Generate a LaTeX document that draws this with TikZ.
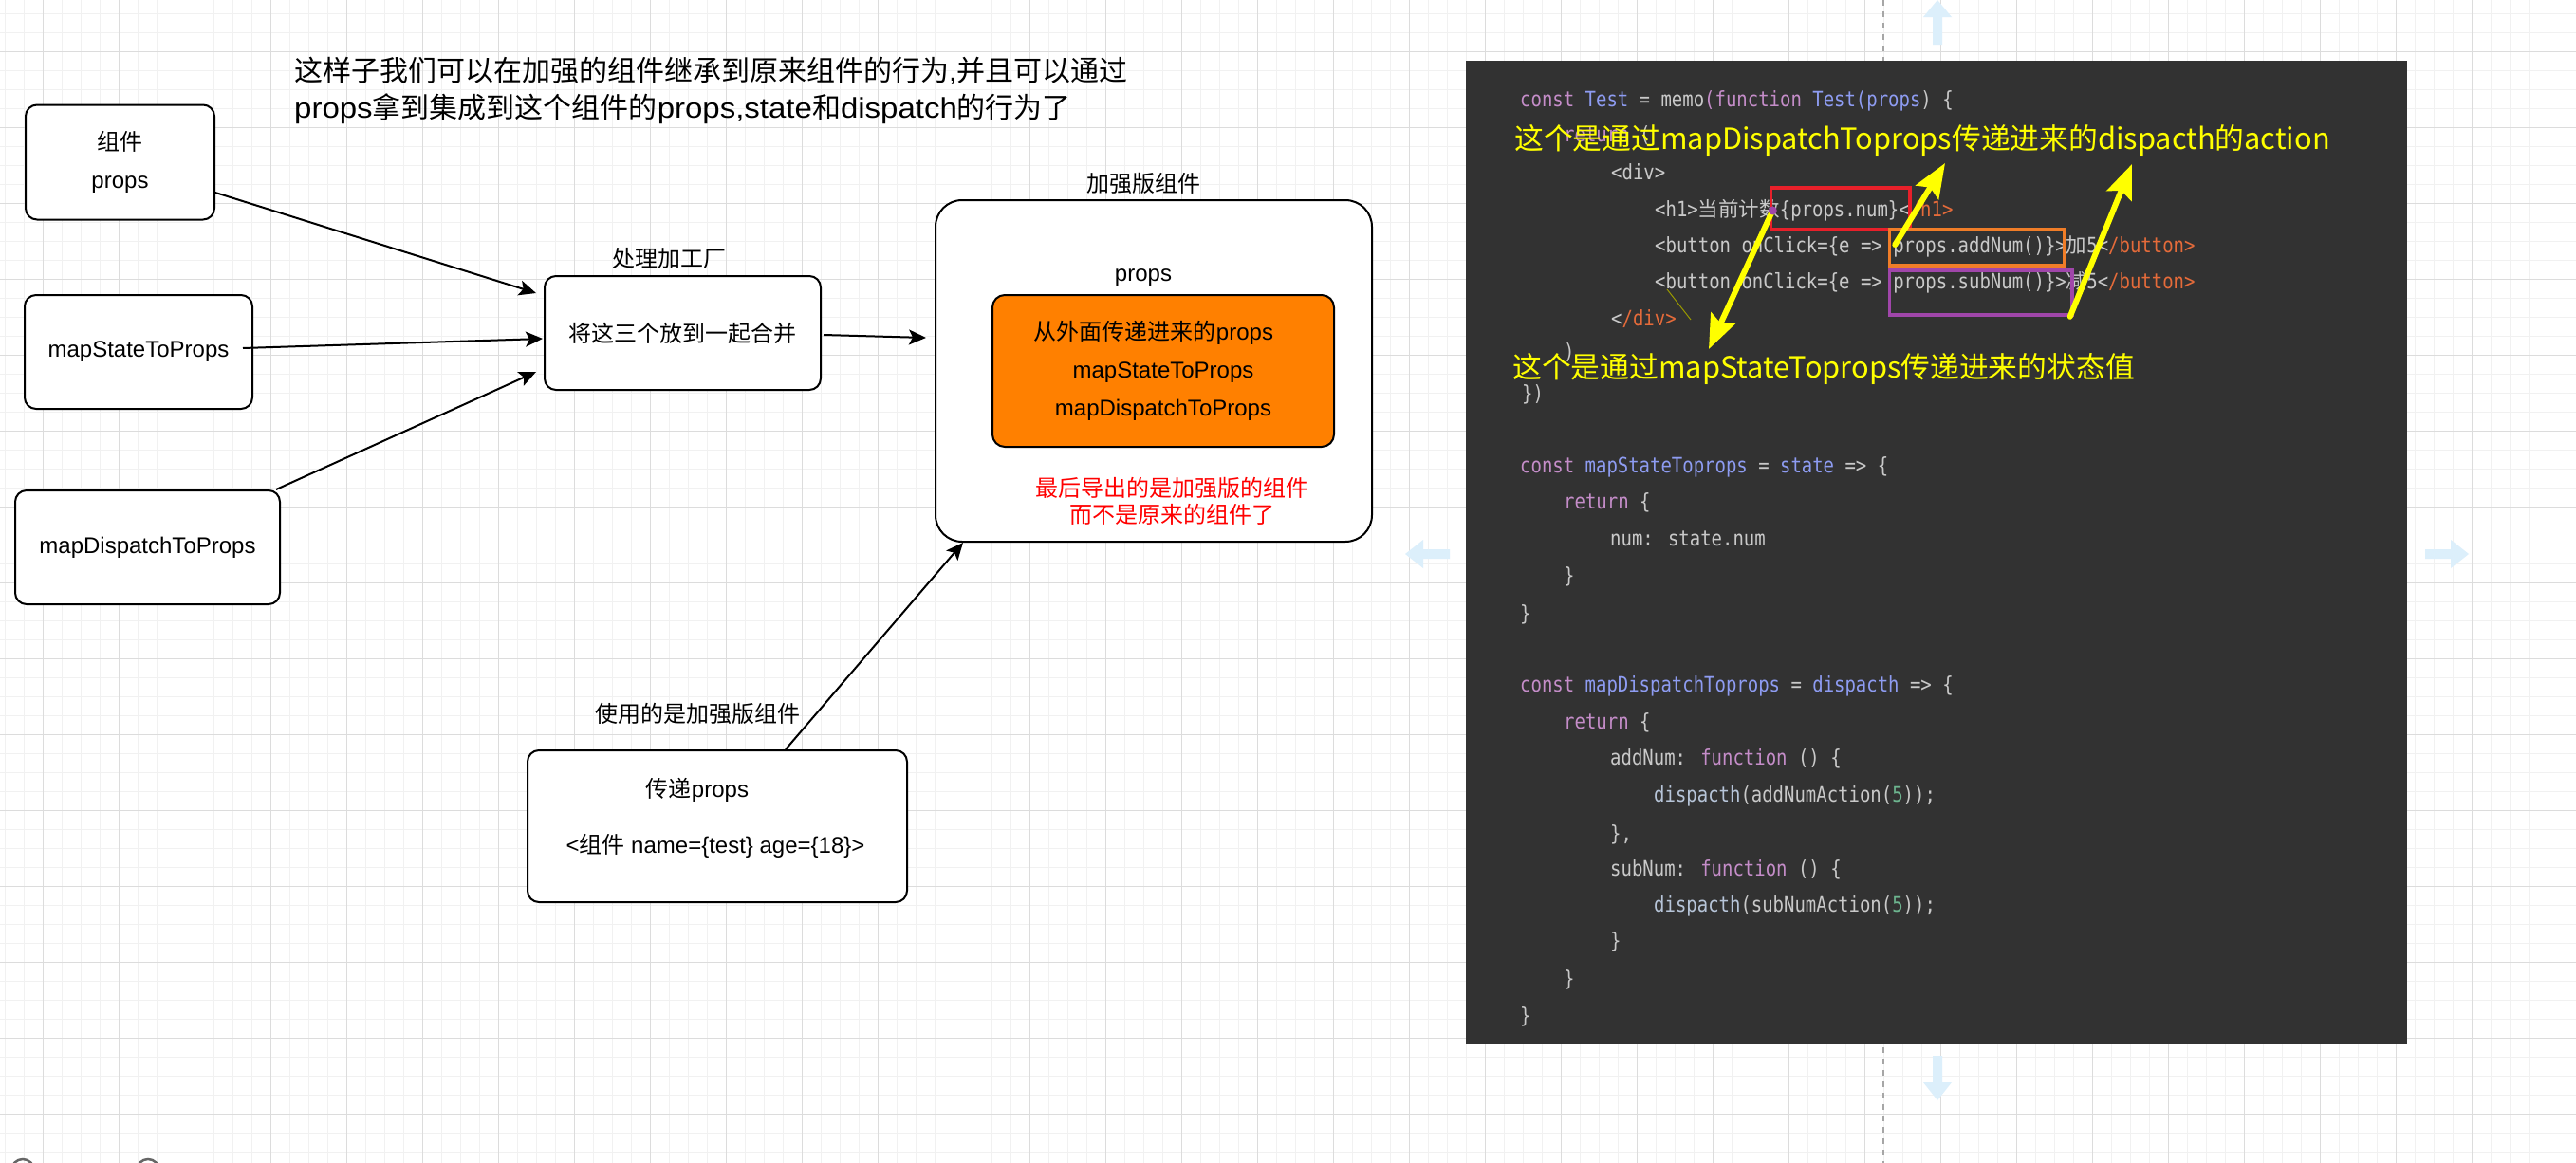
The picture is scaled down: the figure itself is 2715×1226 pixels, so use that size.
\documentclass[tikz,border=0pt]{standalone}
\usepackage{fontspec}
\setmainfont{Liberation Sans}
\newfontfamily\zhf{Noto Sans CJK SC}
\newfontfamily\ttllat[FakeStretch=1.1]{Liberation Sans}
\newfontfamily\codefont[FakeStretch=0.85]{DejaVu Sans Mono}
\newfontfamily\codezh{Noto Sans CJK SC}
\usetikzlibrary{arrows.meta,calc}
\definecolor{panel}{HTML}{323232}
\definecolor{ckw}{HTML}{C58DC9}
\definecolor{cid}{HTML}{8E9CF2}
\definecolor{cpl}{HTML}{C9C9C9}
\definecolor{ctag}{HTML}{E56B3A}
\definecolor{cnum}{HTML}{6DB58F}
\definecolor{cfn}{HTML}{B7C5D9}
\definecolor{hlred}{HTML}{E8202A}
\definecolor{hlorg}{HTML}{F07D28}
\definecolor{hlpur}{HTML}{A046AA}
\definecolor{ylw}{HTML}{FFFF00}
\definecolor{gmin}{HTML}{F1F1F1}
\definecolor{gmaj}{HTML}{DCDCDC}
\definecolor{hov}{HTML}{DCEFFB}
\definecolor{orfill}{HTML}{FF8000}
\definecolor{redtxt}{HTML}{FF0000}
\newcommand\ZH[1]{{\zhf #1}}
\newcommand\TL[1]{{\ttllat #1}}
\newcommand\CKw[1]{\textcolor{ckw}{#1}}
\newcommand\CId[1]{\textcolor{cid}{#1}}
\newcommand\CTag[1]{\textcolor{ctag}{#1}}
\newcommand\CNum[1]{\textcolor{cnum}{#1}}
\newcommand\CFn[1]{\textcolor{cfn}{#1}}
\newcommand\CZ[1]{{\codezh\fontsize{21.5}{26}\selectfont #1}}
\tikzset{
  box/.style={draw=black, line width=2pt, rounded corners=12pt, fill=white, inner sep=0pt,
    font=\fontsize{24}{40}\selectfont, align=center},
  conn/.style={line width=2pt, -{Stealth[length=18pt,width=16pt,inset=4pt]}},
  lbl/.style={inner sep=0pt, font=\fontsize{24}{28}\selectfont, align=center},
  ttl/.style={inner sep=0pt, anchor=west, font=\fontsize{30}{36}\selectfont},
  code/.style={inner sep=0pt, anchor=mid west, font=\codefont\fontsize{22.3}{26}\selectfont, text=cpl},
  note/.style={inner sep=0pt, anchor=west, font=\zhf\fontsize{30.8}{36}\selectfont, text=ylw},
  hlbox/.style={line width=3.5pt, inner sep=0pt, fill=none},
  yarr/.style={draw=ylw, line width=6pt, line cap=round, -{Stealth[length=36pt,width=28pt,inset=6pt]}},
  gminor/.style={draw=gmin, line width=1pt},
  gmajor/.style={draw=gmaj, line width=1pt},
  hover/.style={fill=hov}
}
\begin{document}
\begin{tikzpicture}[x=1pt,y=-1pt]
\useasboundingbox (0,0) rectangle (2715,1226);
\clip (0,0) rectangle (2715,1226);
\fill[white] (0,0) rectangle (2715,1226);
% grid
\foreach \x in {5,25,...,2715} \draw[gminor] (\x,0) -- (\x,1226);
\foreach \y in {14,34,...,1226} \draw[gminor] (0,\y) -- (2715,\y);
\foreach \x in {45,125,...,2715} \draw[gmajor] (\x,0) -- (\x,1226);
\foreach \y in {54,134,...,1226} \draw[gmajor] (0,\y) -- (2715,\y);
% dashed guide
\draw[draw=black!35, line width=1.5pt, dash pattern=on 6pt off 6pt] (1985,0) -- (1985,1226);
% hover arrows
\fill[hover] (2042,0) -- (2057,18) -- (2047,18) -- (2047,47) -- (2037,47) -- (2037,18) -- (2027,18) -- cycle;
\fill[hover] (1481,584) -- (1500,569) -- (1500,579) -- (1528,579) -- (1528,589) -- (1500,589) -- (1500,599) -- cycle;
\fill[hover] (2602,584) -- (2583,569) -- (2583,579) -- (2556,579) -- (2556,589) -- (2583,589) -- (2583,599) -- cycle;
\fill[hover] (2042,1160) -- (2057,1141) -- (2047,1141) -- (2047,1113) -- (2037,1113) -- (2037,1141) -- (2027,1141) -- cycle;
% zoom controls
\draw[black!60, line width=2.5pt] (24,1234) circle (12);
\draw[black!60, line width=2.5pt] (156,1234) circle (12);

% title
\node[ttl] (t1) at (310,75) {\ZH{这样子我们可以在加强的组件继承到原来组件的行为},\ZH{并且可以通过}};
\node[ttl] (t2) at (310,115) {\TL{props}\ZH{拿到集成到这个组件的}\TL{props,state}\ZH{和}\TL{dispatch}\ZH{的行为了}};

% left boxes
\node[box, minimum width=199pt, minimum height=121pt] (ncomp) at (126.5,171) {\ZH{组件}\\props};
\node[box, minimum width=240pt, minimum height=120pt] (nstate) at (146,371) {mapStateToProps};
\node[box, minimum width=279pt, minimum height=120pt] (ndisp) at (155.5,577) {mapDispatchToProps};
\node[box, minimum width=291pt, minimum height=120pt] (nfac) at (719.5,351) {\ZH{将这三个放到一起合并}};
\node[lbl] (lfac) at (705,272) {\ZH{处理加工厂}};

% enhanced component
\node[box, rounded corners=28pt, minimum width=460pt, minimum height=360pt] (nbig) at (1216,391) {};
\node[lbl] (lbig) at (1205,193) {\ZH{加强版组件}};
\node[lbl] (lprops) at (1205,293) {props};
\node[box, fill=orfill, rounded corners=13pt, minimum width=360pt, minimum height=160pt] (nprops) at (1226,391)
  {\ZH{从外面传递进来的}props\hspace*{20pt}\\mapStateToProps\\mapDispatchToProps};
\node[lbl, text=redtxt] (lred) at (1235,528) {\ZH{最后导出的是加强版的组件}\\\ZH{而不是原来的组件了}};

% user box
\node[box, minimum width=400pt, minimum height=160pt] (nuse) at (756,871) {};
\node[lbl] (luse) at (735,752) {\ZH{使用的是加强版组件}};
\node[lbl] (u1) at (735,833) {\ZH{传递}props};
\node[lbl] (u2) at (754,892) {<\ZH{组件} name=\{test\} age=\{18\}>};

% connectors
\draw[conn] ($(ncomp.east)+(0,32)$) -- ($(nfac.north west)+(-8,19)$);
\draw[conn] ($(nstate.east)+(-11,-4)$) -- ($(nfac.west)+(-1,6)$);
\draw[conn] ($(ndisp.north east)+(-5,0)$) -- ($(nfac.south west)+(-8,-20)$);
\draw[conn] ($(nfac.east)+(2,2)$) -- ($(nbig.west)+(-9,-35)$);
\draw[conn] ($(nuse.north)+(72,0)$) -- ($(nbig.south west)+(30,0)$);

% code panel
\fill[panel] (1545,64) rectangle (2537,1101);
\begin{scope}[yshift=-4pt]
\node[code] (c01) at (1602,106) {\CKw{const} \CId{Test} = memo\CKw{(function} \CId{Test(props}) \{};
\node[code] (c02) at (1648,143) {\CKw{return} (};
\node[code] (c03) at (1698,183) {<div>};
\node[code] (c04) at (1744,222) {<h1>\CZ{当前计数}\{props.num\}<\CTag{/h1>}};
\node[code] (c05) at (1744,260) {<button onClick=\{e => props.addNum()\}>\CZ{加}5<\CTag{/button>}};
\node[code] (c06) at (1744,298) {<button onClick=\{e => props.subNum()\}>\CZ{减}5<\CTag{/button>}};
\node[code] (c07) at (1698,337) {<\CTag{/div>}};
\node[code] (c08) at (1648,372) {)};
\node[code] (c09) at (1604,416) {\})};
\node[code] (c10) at (1602,492) {\CKw{const} \CId{mapStateToprops} = \CId{state} => \{};
\node[code] (c11) at (1648,530) {\CKw{return} \{};
\node[code] (c12) at (1697,569) {num: state.num};
\node[code] (c13) at (1648,608) {\}};
\node[code] (c14) at (1602,648) {\}};
\node[code] (c15) at (1602,723) {\CKw{const} \CId{mapDispatchToprops} = \CId{dispacth} => \{};
\node[code] (c16) at (1648,762) {\CKw{return} \{};
\node[code] (c17) at (1697,800) {addNum: \CKw{function} () \{};
\node[code] (c18) at (1743,839) {\CFn{dispacth}(addNumAction(\CNum{5}));};
\node[code] (c19) at (1697,880) {\},};
\node[code] (c20) at (1697,917) {subNum: \CKw{function} () \{};
\node[code] (c21) at (1743,955) {\CFn{dispacth}(subNumAction(\CNum{5}));};
\node[code] (c22) at (1697,993) {\}};
\node[code] (c23) at (1648,1033) {\}};
\node[code] (c24) at (1602,1072) {\}};
\end{scope}

% highlight boxes
\node[hlbox, draw=hlred, minimum width=146.5pt, minimum height=44pt] (hlnum) at (1939.75,220) {};
\node[hlbox, draw=hlorg, minimum width=184.5pt, minimum height=38pt] (hladd) at (2083.75,261) {};
\node[hlbox, draw=hlpur, minimum width=192.5pt, minimum height=47pt] (hlsub) at (2087.75,308.5) {};

% notes
\node[note] (note1) at (1596,148) {这个是通过mapDispatchToprops传递进来的dispacth的action};
\node[note] (note2) at (1594,389) {这个是通过mapStateToprops传递进来的状态值};

% yellow arrows
\coordinate (tipA) at (2050,172);
\coordinate (tipB) at (2247,173);
\coordinate (tipC) at (1801,368);
\draw[yarr] ($(hladd.west)+(7.5,-3)$) -- (tipA);
\draw[yarr] ($(hlsub.south east)+(-4,0)$) -- (tipB);
\draw[yarr] ($(hlnum.west)+(3.5,2)$) -- (tipC);
\fill[hlpur] ($(hlnum.west)+(3.5,2)$) circle (4.5);
\draw[draw=ylw!60!black, line width=1pt] (1757,305) -- (1782,337);
\end{tikzpicture}
\end{document}
